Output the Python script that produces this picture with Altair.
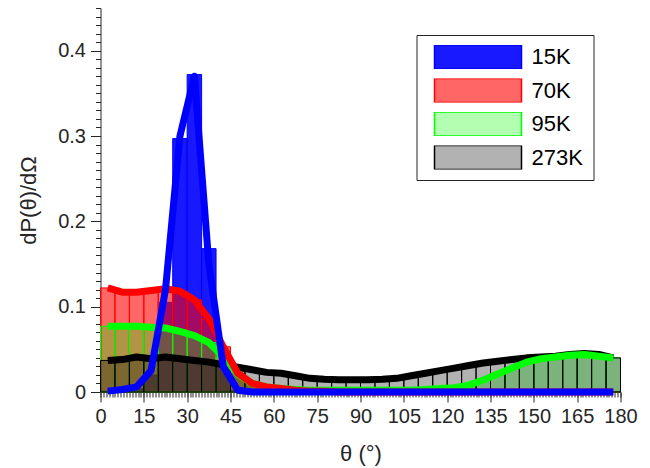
import altair as alt
import pandas as pd

# ---------------- data ----------------
series_names = ["15K", "70K", "95K", "273K"]
edge_colors = ["#0000FF", "#FF0000", "#00FF00", "#000000"]
fill_colors = ["rgba(0,0,255,0.9)", "rgba(255,0,0,0.6)", "rgba(0,255,0,0.3)", "rgba(0,0,0,0.3)"]

bin_width = 5
bin_lo = list(range(0, 180, bin_width))          # 36 bins, 0..175

# histogram heights per bin (dP/dOmega)
hist_15K = [0.001, 0.002, 0.004, 0.020, 0.105, 0.297, 0.372, 0.168, 0.030, 0.002,
            0, 0, 0, 0, 0, 0, 0, 0, 0, 0, 0, 0, 0, 0, 0, 0, 0, 0, 0, 0, 0, 0, 0, 0, 0, 0]
hist_70K = [0.122, 0.117, 0.117, 0.119, 0.121, 0.118, 0.108, 0.086, 0.053, 0.022,
            0.010, 0.006, 0.004, 0.002, 0.001, 0.001, 0, 0, 0, 0, 0, 0, 0, 0, 0, 0,
            0, 0, 0, 0, 0, 0, 0, 0, 0, 0]
hist_95K = [0.077, 0.077, 0.077, 0.076, 0.075, 0.071, 0.066, 0.058, 0.041, 0.021,
            0.010, 0.006, 0.004, 0.003, 0.002, 0.002, 0.002, 0.002, 0.002, 0.002, 0.002,
            0.002, 0.003, 0.004, 0.005, 0.008, 0.014, 0.021, 0.028, 0.035, 0.039, 0.041,
            0.043, 0.044, 0.042, 0.040]
hist_273K = [0.037, 0.038, 0.041, 0.039, 0.041, 0.039, 0.037, 0.035, 0.032, 0.029,
             0.026, 0.023, 0.022, 0.019, 0.016, 0.015, 0.0145, 0.0145, 0.0145, 0.015,
             0.016, 0.019, 0.022, 0.025, 0.028, 0.031, 0.034, 0.036, 0.038, 0.040,
             0.041, 0.042, 0.044, 0.045, 0.044, 0.040]

# curve values at bin centres
line_15K = [0.001, 0.003, 0.006, 0.025, 0.120, 0.300, 0.370, 0.150, 0.030, 0.002,
            0, 0, 0, 0, 0, 0, 0, 0, 0, 0, 0, 0, 0, 0, 0, 0, 0, 0, 0, 0, 0, 0, 0, 0, 0, 0]
line_70K = hist_70K
line_95K = hist_95K
line_273K = hist_273K

hist_vals = {"15K": hist_15K, "70K": hist_70K, "95K": hist_95K, "273K": hist_273K}
line_vals = {"15K": line_15K, "70K": line_70K, "95K": line_95K, "273K": line_273K}

bar_rows = []
for s in series_names:
    for lo, v in zip(bin_lo, hist_vals[s]):
        bar_rows.append({"series": s, "lo": lo, "hi": lo + bin_width, "val": v})
bars_df = pd.DataFrame(bar_rows)

line_rows = []
for s in series_names:
    for lo, v in zip(bin_lo, line_vals[s]):
        line_rows.append({"series": s, "center": lo + bin_width / 2, "val": v})
lines_df = pd.DataFrame(line_rows)

# ---------------- styling ----------------
FONT = "Liberation Sans"
AX = "#262626"

xscale = alt.Scale(domain=[0, 180], nice=False, zero=False)
yscale = alt.Scale(domain=[0, 0.45], nice=False)

legend_def = alt.Legend(
    title=None, orient="none", legendX=316, legendY=27, direction="vertical",
    symbolType="M-1,-0.276L1,-0.276L1,0.276L-1,0.276Z", symbolSize=7569,
    symbolStrokeWidth=1.5, symbolOpacity=1, clipHeight=24,
    labelFont=FONT, labelFontSize=22, labelColor="#000000", labelOffset=9,
    symbolOffset=7, rowPadding=9.5, padding=10,
    strokeColor=AX, fillColor="white",
)
fill_enc = alt.Fill("series:N", scale=alt.Scale(domain=series_names, range=fill_colors), legend=legend_def)
stroke_scale = alt.Scale(domain=series_names, range=edge_colors)

x_major = alt.Axis(values=list(range(0, 181, 15)), tickSize=10, labelFontSize=20, labelFont=FONT,
                   labelPadding=4, labelOverlap=False, labelFlush=False, title="θ (°)",
                   titleFont=FONT, titleFontSize=22,
                   titleFontWeight="normal", titlePadding=17, orient="bottom", grid=False)
y_major = alt.Axis(values=[0, 0.1, 0.2, 0.3, 0.4], format="~g", tickSize=10, labelFontSize=20,
                   labelFont=FONT, labelPadding=5, labelFlush=False, title="dP(θ)/dΩ", titleFont=FONT,
                   titleFontSize=22, titleFontWeight="normal", titlePadding=17, orient="left", grid=False)
x_minor = alt.Axis(values=list(range(0, 181)), tickSize=5, labels=False, domain=False,
                   title=None, orient="bottom", grid=False)
y_minor = alt.Axis(values=[round(i * 0.01, 2) for i in range(0, 46)], tickSize=5, labels=False,
                   domain=False, title=None, orient="left", grid=False)

bars = alt.Chart(bars_df).mark_rect(strokeWidth=1).encode(
    x=alt.X("lo:Q", scale=xscale, axis=x_major),
    x2="hi:Q",
    y=alt.Y("val:Q", scale=yscale, axis=y_major),
    y2=alt.datum(0),
    fill=fill_enc,
    stroke=alt.Stroke("series:N", scale=stroke_scale, legend=legend_def),
)

line_layers = []
for i, s in enumerate(["273K", "95K", "70K", "15K"]):
    xa = x_minor if i == 0 else None
    ya = y_minor if i == 0 else None
    ln = alt.Chart(lines_df[lines_df.series == s]).mark_line(
        strokeWidth=7, strokeJoin="round", strokeCap="butt"
    ).encode(
        x=alt.X("center:Q", scale=xscale, axis=xa),
        y=alt.Y("val:Q", scale=yscale, axis=ya),
        stroke=alt.Stroke("series:N", scale=stroke_scale, legend=legend_def),
    )
    line_layers.append(ln)

chart = alt.layer(bars, *line_layers).resolve_axis(
    x="independent", y="independent"
).properties(
    width=520, height=384,
    autosize=alt.AutoSizeParams(type="none"),
    padding={"left": 92.5, "top": 0, "right": 20, "bottom": 74},
).configure_view(stroke=None).configure_axis(
    domainColor=AX, tickColor=AX, labelColor=AX, titleColor=AX, domainWidth=1, tickWidth=1
)

chart.save("out.html", embed_options={"renderer": "svg", "actions": False})
